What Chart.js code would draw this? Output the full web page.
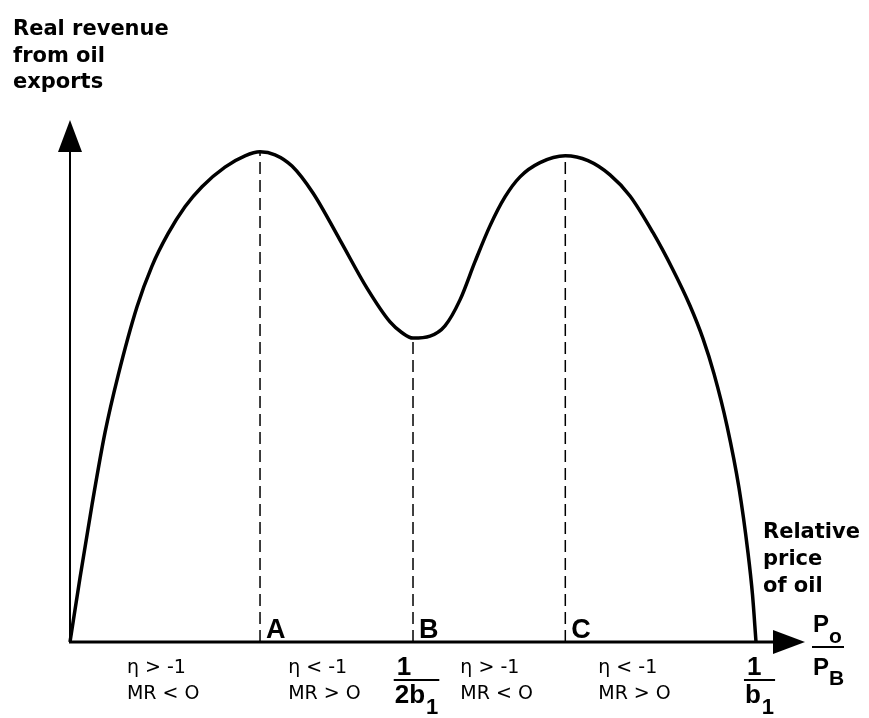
<!DOCTYPE html>
<html>
<head>
<meta charset="utf-8">
<script src="https://cdn.jsdelivr.net/npm/chart.js@4/dist/chart.umd.min.js"></script>
<style>
  html, body { margin: 0; padding: 0; background: #fff; }
  #chart { display: block; }
</style>
</head>
<body>
<canvas id="chart" width="869" height="718"></canvas>
<script>
// relative price of oil (1/b1 = 1) and real revenue (peak A = 1)
const priceX = [0, 0.0146, 0.0321, 0.051, 0.070, 0.0977, 0.1195, 0.1429, 0.1676, 0.1924, 0.2259, 0.2551, 0.277,
  0.2988, 0.3236, 0.3542, 0.3936, 0.4329, 0.4665, 0.484, 0.5, 0.5248, 0.5466, 0.5685, 0.5904, 0.6122, 0.6341, 0.656, 0.6851, 0.722,
  0.7551, 0.7872, 0.8163, 0.8499, 0.8776, 0.9038, 0.9227, 0.9388, 0.9577, 0.9752, 0.9883, 0.9949, 1.0];
const revenue = [0, 0.131, 0.280, 0.427, 0.543, 0.684, 0.767, 0.833, 0.888, 0.929, 0.969, 0.992, 1.0,
  0.994, 0.971, 0.916, 0.820, 0.722, 0.653, 0.631, 0.620, 0.624, 0.645, 0.698, 0.776, 0.849, 0.908, 0.949, 0.978, 0.992,
  0.982, 0.953, 0.910, 0.835, 0.763, 0.686, 0.619, 0.547, 0.441, 0.314, 0.182, 0.096, 0];

const markerNames = ['A', 'B', 'C'];
const markerX = [0.277, 0.5, 0.722];
const markerTop = [1.0, 0.62, 0.992];

const regionEta = ['\u03B7 > -1', '\u03B7 < -1', '\u03B7 > -1', '\u03B7 < -1'];
const regionMR = ['MR < O', 'MR > O', 'MR < O', 'MR > O'];

const tickX = [0.5, 1];
const tickNum = ['1', '1'];
const tickDen = ['2b', 'b'];
const tickSub = ['1', '1'];

const yTitle = ['Real revenue', 'from oil', 'exports'];
const xTitle = ['Relative', 'price', 'of oil'];

const BOLD = 'bold 21px "DejaVu Sans"';
const REGULAR = '19px "DejaVu Sans"';
const MATH = 'bold 26px "Liberation Sans"';
const MATH_SUB = 'bold 22px "Liberation Sans"';

const diagram = {
    id: 'diagram',
    afterDatasetsDraw(chart) {
        const { ctx, chartArea: a, scales: { x, y } } = chart;
        const x0 = x.getPixelForValue(0);
        const y0 = y.getPixelForValue(0);
        ctx.save();
        ctx.fillStyle = '#000';
        ctx.strokeStyle = '#000';

        // y axis with arrow
        ctx.lineWidth = 2;
        ctx.beginPath();
        ctx.moveTo(x0, y0);
        ctx.lineTo(x0, a.top + 28);
        ctx.stroke();
        ctx.beginPath();
        ctx.moveTo(x0, a.top);
        ctx.lineTo(x0 - 12, a.top + 32);
        ctx.lineTo(x0 + 12, a.top + 32);
        ctx.closePath();
        ctx.fill();

        // x axis with arrow
        ctx.lineWidth = 3;
        ctx.beginPath();
        ctx.moveTo(x0 - 1, y0);
        ctx.lineTo(a.right - 28, y0);
        ctx.stroke();
        ctx.beginPath();
        ctx.moveTo(a.right, y0);
        ctx.lineTo(a.right - 32, y0 - 12);
        ctx.lineTo(a.right - 32, y0 + 12);
        ctx.closePath();
        ctx.fill();

        ctx.textBaseline = 'alphabetic';
        ctx.textAlign = 'left';

        // axis titles
        ctx.font = BOLD;
        yTitle.forEach((t, i) => ctx.fillText(t, 13, 35 + i * 26.5));
        xTitle.forEach((t, i) => ctx.fillText(t, a.right - 42, y0 - 104 + i * 27));

        // A B C
        ctx.font = 'bold 27px "Liberation Sans"';
        markerNames.forEach((n, i) => ctx.fillText(n, x.getPixelForValue(markerX[i]) + 6, y0 - 4));

        // elasticity regions
        const regionLeft = [0.083, 0.318, 0.569, 0.770];
        ctx.font = REGULAR;
        regionEta.forEach((t, i) => {
            const px = x.getPixelForValue(regionLeft[i]);
            ctx.fillText(t, px, y0 + 31);
            ctx.fillText(regionMR[i], px, y0 + 57);
        });

        // 1/2b1 and 1/b1
        tickX.forEach((v, i) => {
            const px = x.getPixelForValue(v);
            ctx.font = MATH;
            const wDen = ctx.measureText(tickDen[i]).width;
            ctx.font = MATH_SUB;
            const wSub = ctx.measureText(tickSub[i]).width;
            const left = px + 3 - (wDen + wSub) / 2;
            ctx.font = MATH;
            ctx.fillText(tickNum[i], left + 2, y0 + 33);
            ctx.fillText(tickDen[i], left, y0 + 61);
            ctx.font = MATH_SUB;
            ctx.fillText(tickSub[i], left + wDen + 1, y0 + 72);
            ctx.lineWidth = 2;
            ctx.beginPath();
            ctx.moveTo(left - 1, y0 + 38);
            ctx.lineTo(left + wDen + wSub + 2, y0 + 38);
            ctx.stroke();
        });

        // Po / PB
        const lx = a.right + 8;
        ctx.font = 'bold 24px "Liberation Sans"';
        ctx.fillText('P', lx, y0 - 10);
        ctx.fillText('P', lx, y0 + 33);
        ctx.font = 'bold 21px "Liberation Sans"';
        ctx.fillText('o', lx + 16, y0 + 1);
        ctx.fillText('B', lx + 16, y0 + 43);
        ctx.lineWidth = 2;
        ctx.beginPath();
        ctx.moveTo(lx - 1, y0 + 5);
        ctx.lineTo(lx + 31, y0 + 5);
        ctx.stroke();

        ctx.restore();
    }
};

const dashed = markerX.map((v, i) => ({
    data: [{ x: v, y: 0 }, { x: v, y: markerTop[i] }],
    borderColor: '#000',
    borderWidth: 1.5,
    borderDash: [12, 6],
    pointRadius: 0,
    clip: false
}));

new Chart(document.getElementById('chart'), {
    type: 'line',
    data: {
        datasets: [{
            data: priceX.map((v, i) => ({ x: v, y: revenue[i] })),
            borderColor: '#000',
            borderWidth: 3.5,
            cubicInterpolationMode: 'monotone',
            pointRadius: 0,
            clip: false
        }, ...dashed]
    },
    options: {
        responsive: false,
        animation: false,
        layout: { padding: { left: 70, right: 64, top: 120, bottom: 76 } },
        scales: {
            x: { type: 'linear', min: 0, max: 1.0714, display: false },
            y: { type: 'linear', min: 0, max: 1.065, display: false }
        },
        plugins: { legend: { display: false }, tooltip: { enabled: false } }
    },
    plugins: [diagram]
});
</script>
</body>
</html>
